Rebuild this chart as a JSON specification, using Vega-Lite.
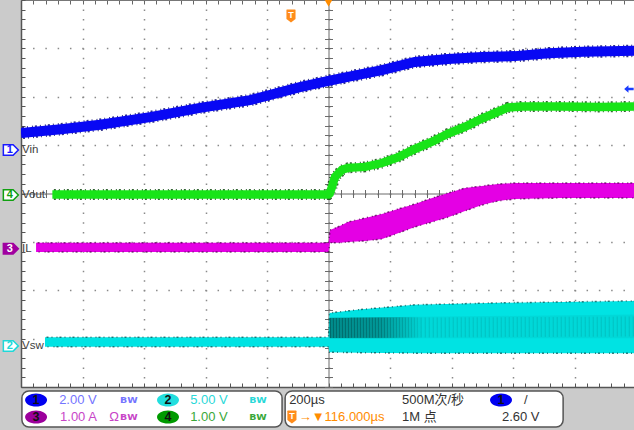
{
  "$schema": "https://vega.github.io/schema/vega-lite/v6.json",
  "width": 615,
  "height": 387,
  "autosize": {"type": "none"},
  "padding": {"left": 21, "top": 0, "right": 0, "bottom": 43},
  "background": "#cbcbcb",
  "config": {"view": {"fill": "white", "stroke": null}},
  "datasets": {
    "frame": [{"t": 0, "v": 0}],
    "vin": [
      {"t": -1000, "v": 1.25}, {"t": -870, "v": 1.33}, {"t": -743, "v": 1.42}, {"t": -580, "v": 1.58},
      {"t": -418, "v": 1.77}, {"t": -255, "v": 1.93}, {"t": -93, "v": 2.2}, {"t": 0, "v": 2.33},
      {"t": 63, "v": 2.41}, {"t": 174, "v": 2.55}, {"t": 281, "v": 2.72}, {"t": 389, "v": 2.78},
      {"t": 499, "v": 2.82}, {"t": 607, "v": 2.84}, {"t": 716, "v": 2.9}, {"t": 827, "v": 2.93},
      {"t": 1000, "v": 2.95}
    ],
    "vout": [
      {"t": -898, "v": -0.02}, {"t": 0, "v": -0.02}, {"t": 4, "v": 0.0}, {"t": 11, "v": 0.13},
      {"t": 21, "v": 0.34}, {"t": 44, "v": 0.49}, {"t": 63, "v": 0.53}, {"t": 119, "v": 0.55},
      {"t": 174, "v": 0.63}, {"t": 226, "v": 0.75}, {"t": 281, "v": 0.92}, {"t": 337, "v": 1.07},
      {"t": 389, "v": 1.24}, {"t": 444, "v": 1.38}, {"t": 499, "v": 1.55}, {"t": 551, "v": 1.69},
      {"t": 584, "v": 1.78}, {"t": 629, "v": 1.8}, {"t": 753, "v": 1.8}, {"t": 883, "v": 1.79},
      {"t": 1000, "v": 1.8}
    ],
    "il": [
      {"t": -951, "lo": -1.21, "hi": -1.02}, {"t": 0, "lo": -1.21, "hi": -1.02},
      {"t": 5, "lo": -1.02, "hi": -0.755}, {"t": 37, "lo": -1.02, "hi": -0.672},
      {"t": 63, "lo": -1.0, "hi": -0.589}, {"t": 119, "lo": -0.98, "hi": -0.506},
      {"t": 174, "lo": -0.94, "hi": -0.424}, {"t": 226, "lo": -0.82, "hi": -0.32},
      {"t": 281, "lo": -0.69, "hi": -0.217}, {"t": 337, "lo": -0.59, "hi": -0.093},
      {"t": 389, "lo": -0.49, "hi": 0.01}, {"t": 444, "lo": -0.36, "hi": 0.114},
      {"t": 499, "lo": -0.24, "hi": 0.155}, {"t": 551, "lo": -0.155, "hi": 0.196},
      {"t": 607, "lo": -0.114, "hi": 0.217}, {"t": 753, "lo": -0.093, "hi": 0.217},
      {"t": 1000, "lo": -0.093, "hi": 0.217}
    ],
    "vsw": [
      {"t": -922, "lo": -3.17, "hi": -2.97}, {"t": 0, "lo": -3.17, "hi": -2.97},
      {"t": 3, "lo": -3.28, "hi": -2.47}, {"t": 100, "lo": -3.29, "hi": -2.4},
      {"t": 281, "lo": -3.3, "hi": -2.3}, {"t": 558, "lo": -3.3, "hi": -2.26},
      {"t": 1000, "lo": -3.3, "hi": -2.22}
    ],
    "vswDark": [
      {"t": 4, "lo": -2.99, "hi": -2.57, "mid": -2.78}, {"t": 300, "lo": -2.99, "hi": -2.55, "mid": -2.77}
    ],
    "vswLight": [
      {"t": 300, "lo": -2.99, "hi": -2.55, "mid": -2.77}, {"t": 1000, "lo": -2.99, "hi": -2.5, "mid": -2.75}
    ],
    "markers": [
      {"ch": "1", "t": -1033, "v": 0.9, "name": "Vin"},
      {"ch": "4", "t": -1033, "v": -0.03, "name": "Vout"},
      {"ch": "3", "t": -1033, "v": -1.14, "name": "IL"},
      {"ch": "2", "t": -1033, "v": -3.15, "name": "Vsw"}
    ],
    "boxes": [
      {"t": -997, "t2": -151, "v": -4.083, "v2": -4.827},
      {"t": -141, "t2": 763, "v": -4.083, "v2": -4.827}
    ],
    "ellipses": [
      {"ch": "1", "t": -951, "v": -4.269},
      {"ch": "3", "t": -951, "v": -4.62},
      {"ch": "2", "t": -522, "v": -4.269},
      {"ch": "4", "t": -522, "v": -4.62},
      {"ch": "1", "t": 561, "v": -4.269}
    ],
    "ptext": [
      {"text": "2.00 V", "t": -876, "v": -4.269, "c": "ch1"},
      {"text": "1.00 A", "t": -873, "v": -4.62, "c": "ch3"},
      {"text": "Ω", "t": -713, "v": -4.62, "c": "ch3"},
      {"text": "5.00 V", "t": -450, "v": -4.269, "c": "ch2"},
      {"text": "1.00 V", "t": -450, "v": -4.62, "c": "ch4"},
      {"text": "200µs", "t": -128, "v": -4.269, "c": "dark"},
      {"text": "→▼116.000µs", "t": -97, "v": -4.62, "c": "orange"},
      {"text": "500M次/秒", "t": 239, "v": -4.269, "c": "dark"},
      {"text": "1M 点", "t": 239, "v": -4.62, "c": "dark"},
      {"text": "/", "t": 636, "v": -4.269, "c": "dark"},
      {"text": "2.60 V", "t": 564, "v": -4.62, "c": "dark"}
    ],
    "icons": [
      {"t": -678, "v": -4.269, "c": "ch1"},
      {"t": -678, "v": -4.62, "c": "ch3"},
      {"t": -258, "v": -4.269, "c": "ch2"},
      {"t": -258, "v": -4.62, "c": "ch4"}
    ],
    "badges": [
      {"t": -122, "v": 3.67},
      {"t": -119, "v": -4.62}
    ],
    "trig": [{"t": 0, "v": 3.94}],
    "lvl": [{"t": 977, "v": 2.16}]
  },
  "resolve": {
    "axis": {"x": "independent", "y": "independent"},
    "scale": {"color": "independent", "fill": "independent", "stroke": "independent"}
  },
  "layer": [
    {
      "data": {"name": "frame"},
      "mark": {"type": "point", "opacity": 0},
      "encoding": {
        "x": {"field": "t", "type": "quantitative", "scale": {"domain": [-1000, 1000], "nice": false, "zero": false},
          "axis": {"orient": "bottom", "values": [-1000,-960,-920,-880,-840,-800,-760,-720,-680,-640,-600,-560,-520,-480,-440,-400,-360,-320,-280,-240,-200,-160,-120,-80,-40,0,40,80,120,160,200,240,280,320,360,400,440,480,520,560,600,640,680,720,760,800,840,880,920,960,1000],
            "labels": false, "title": null, "tickSize": -4, "tickColor": "#555555", "tickWidth": 1,
            "domainColor": "#555555", "domainWidth": 1.5,
            "grid": true, "gridColor": "#8a8a8a", "gridWidth": 1.5, "gridDash": [1.5, 8.175], "gridDashOffset": 0.75,
            "gridOpacity": {"condition": {"test": "abs(datum.value) < 999 && abs(datum.value % 200) < 1", "value": 1}, "value": 0}}},
        "y": {"field": "v", "type": "quantitative", "scale": {"domain": [-4, 4], "nice": false, "zero": false},
          "axis": {"orient": "left", "values": [-4,-3.8,-3.6,-3.4,-3.2,-3,-2.8,-2.6,-2.4,-2.2,-2,-1.8,-1.6,-1.4,-1.2,-1,-0.8,-0.6,-0.4,-0.2,0,0.2,0.4,0.6,0.8,1,1.2,1.4,1.6,1.8,2,2.2,2.4,2.6,2.8,3,3.2,3.4,3.6,3.8,4],
            "labels": false, "title": null, "tickSize": -4, "tickColor": "#555555", "tickWidth": 1,
            "domainColor": "#555555", "domainWidth": 1.5,
            "grid": true, "gridColor": "#8a8a8a", "gridWidth": 1.5, "gridDash": [1.5, 10.8], "gridDashOffset": 0.75,
            "gridOpacity": {"condition": {"test": "abs(datum.value) < 3.9 && abs(datum.value - round(datum.value)) < 0.01", "value": 1}, "value": 0}}}
      }
    },
    {
      "data": {"name": "frame"},
      "mark": {"type": "point", "opacity": 0},
      "encoding": {
        "x": {"field": "t", "type": "quantitative", "scale": {"domain": [-1000, 1000], "nice": false, "zero": false},
          "axis": {"orient": "top", "values": [-1000,-960,-920,-880,-840,-800,-760,-720,-680,-640,-600,-560,-520,-480,-440,-400,-360,-320,-280,-240,-200,-160,-120,-80,-40,0,40,80,120,160,200,240,280,320,360,400,440,480,520,560,600,640,680,720,760,800,840,880,920,960,1000],
            "labels": false, "title": null, "tickSize": -4, "tickColor": "#666666", "domainColor": "#777777", "domainWidth": 1, "grid": false}},
        "y": {"field": "v", "type": "quantitative", "scale": {"domain": [-4, 4], "nice": false, "zero": false}, "axis": null}
      }
    },
    {
      "data": {"name": "frame"},
      "mark": {"type": "point", "opacity": 0},
      "encoding": {
        "x": {"field": "t", "type": "quantitative", "scale": {"domain": [-1000, 1000], "nice": false, "zero": false},
          "axis": {"orient": "bottom", "offset": -193.5, "values": [-1000,-960,-920,-880,-840,-800,-760,-720,-680,-640,-600,-560,-520,-480,-440,-400,-360,-320,-280,-240,-200,-160,-120,-80,-40,0,40,80,120,160,200,240,280,320,360,400,440,480,520,560,600,640,680,720,760,800,840,880,920,960,1000],
            "labels": false, "title": null, "tickSize": 4, "tickColor": "#6a6a6a", "domainColor": "#6a6a6a", "domainWidth": 1, "grid": false}},
        "y": {"field": "v", "type": "quantitative", "scale": {"domain": [-4, 4], "nice": false, "zero": false},
          "axis": {"orient": "left", "offset": -307.5, "values": [-4,-3.8,-3.6,-3.4,-3.2,-3,-2.8,-2.6,-2.4,-2.2,-2,-1.8,-1.6,-1.4,-1.2,-1,-0.8,-0.6,-0.4,-0.2,0,0.2,0.4,0.6,0.8,1,1.2,1.4,1.6,1.8,2,2.2,2.4,2.6,2.8,3,3.2,3.4,3.6,3.8,4],
            "labels": false, "title": null, "tickSize": 4, "tickColor": "#6a6a6a", "domainColor": "#6a6a6a", "domainWidth": 1, "grid": false}}
      }
    },
    {
      "data": {"name": "frame"},
      "mark": {"type": "point", "opacity": 0},
      "encoding": {
        "x": {"field": "t", "type": "quantitative", "scale": {"domain": [-1000, 1000], "nice": false, "zero": false},
          "axis": {"orient": "bottom", "offset": -193.5, "values": [-1000,-960,-920,-880,-840,-800,-760,-720,-680,-640,-600,-560,-520,-480,-440,-400,-360,-320,-280,-240,-200,-160,-120,-80,-40,0,40,80,120,160,200,240,280,320,360,400,440,480,520,560,600,640,680,720,760,800,840,880,920,960,1000],
            "labels": false, "title": null, "tickSize": -4, "tickColor": "#6a6a6a", "domain": false, "grid": false}},
        "y": {"field": "v", "type": "quantitative", "scale": {"domain": [-4, 4], "nice": false, "zero": false},
          "axis": {"orient": "left", "offset": -307.5, "values": [-4,-3.8,-3.6,-3.4,-3.2,-3,-2.8,-2.6,-2.4,-2.2,-2,-1.8,-1.6,-1.4,-1.2,-1,-0.8,-0.6,-0.4,-0.2,0,0.2,0.4,0.6,0.8,1,1.2,1.4,1.6,1.8,2,2.2,2.4,2.6,2.8,3,3.2,3.4,3.6,3.8,4],
            "labels": false, "title": null, "tickSize": -4, "tickColor": "#6a6a6a", "domain": false, "grid": false}}
      }
    },
    {
      "data": {"name": "vsw"},
      "mark": {"type": "area", "color": "#00e3e3", "clip": true},
      "encoding": {
        "x": {"field": "t", "type": "quantitative", "scale": {"domain": [-1000, 1000], "nice": false, "zero": false}, "axis": null},
        "y": {"field": "lo", "type": "quantitative", "scale": {"domain": [-4, 4], "nice": false, "zero": false}, "axis": null},
        "y2": {"field": "hi"}
      }
    },
    {
      "data": {"name": "vswDark"},
      "mark": {"type": "area", "clip": true, "color": {"gradient": "linear", "x1": 0, "x2": 1, "y1": 0, "y2": 0,
        "stops": [{"offset": 0, "color": "#009494"}, {"offset": 0.55, "color": "#00a0a0"}, {"offset": 1, "color": "#00d8d8"}]}},
      "encoding": {
        "x": {"field": "t", "type": "quantitative", "scale": {"domain": [-1000, 1000], "nice": false, "zero": false}, "axis": null},
        "y": {"field": "lo", "type": "quantitative", "scale": {"domain": [-4, 4], "nice": false, "zero": false}, "axis": null},
        "y2": {"field": "hi"}
      }
    },
    {
      "data": {"name": "vswDark"},
      "mark": {"type": "line", "clip": true, "strokeWidth": 20, "strokeDash": [1.5, 1.5], "strokeCap": "butt",
        "color": {"gradient": "linear", "x1": 0, "x2": 1, "y1": 0, "y2": 0,
        "stops": [{"offset": 0, "color": "#006a6a"}, {"offset": 0.55, "color": "#007a7a"}, {"offset": 0.85, "color": "#00a8a8"}, {"offset": 1, "color": "#00c8c8"}]}},
      "encoding": {
        "x": {"field": "t", "type": "quantitative", "scale": {"domain": [-1000, 1000], "nice": false, "zero": false}, "axis": null},
        "y": {"field": "mid", "type": "quantitative", "scale": {"domain": [-4, 4], "nice": false, "zero": false}, "axis": null}
      }
    },
    {
      "data": {"name": "vswLight"},
      "mark": {"type": "area", "clip": true, "color": "#00d8d8"},
      "encoding": {
        "x": {"field": "t", "type": "quantitative", "scale": {"domain": [-1000, 1000], "nice": false, "zero": false}, "axis": null},
        "y": {"field": "lo", "type": "quantitative", "scale": {"domain": [-4, 4], "nice": false, "zero": false}, "axis": null},
        "y2": {"field": "hi"}
      }
    },
    {
      "data": {"name": "vswLight"},
      "mark": {"type": "line", "clip": true, "strokeWidth": 20, "strokeDash": [1, 3], "strokeCap": "butt", "color": "#00c2c2"},
      "encoding": {
        "x": {"field": "t", "type": "quantitative", "scale": {"domain": [-1000, 1000], "nice": false, "zero": false}, "axis": null},
        "y": {"field": "mid", "type": "quantitative", "scale": {"domain": [-4, 4], "nice": false, "zero": false}, "axis": null}
      }
    },
    {
      "data": {"name": "vsw"},
      "mark": {"type": "line", "clip": true, "color": "#004848", "strokeWidth": 1.5, "strokeDash": [1, 2, 2, 3, 1, 4], "strokeDashOffset": 1.5, "opacity": 0.7},
      "encoding": {
        "x": {"field": "t", "type": "quantitative", "scale": {"domain": [-1000, 1000], "nice": false, "zero": false}, "axis": null},
        "y": {"field": "hi", "type": "quantitative", "scale": {"domain": [-4, 4], "nice": false, "zero": false}, "axis": null}
      }
    },
    {
      "data": {"name": "vsw"},
      "mark": {"type": "line", "clip": true, "color": "#004848", "strokeWidth": 1.5, "strokeDash": [2, 3, 1, 5, 1, 2], "strokeDashOffset": 2.5, "opacity": 0.7},
      "encoding": {
        "x": {"field": "t", "type": "quantitative", "scale": {"domain": [-1000, 1000], "nice": false, "zero": false}, "axis": null},
        "y": {"field": "lo", "type": "quantitative", "scale": {"domain": [-4, 4], "nice": false, "zero": false}, "axis": null}
      }
    },
    {
      "data": {"name": "il"},
      "mark": {"type": "area", "color": "#e400e4", "clip": true},
      "encoding": {
        "x": {"field": "t", "type": "quantitative", "scale": {"domain": [-1000, 1000], "nice": false, "zero": false}, "axis": null},
        "y": {"field": "lo", "type": "quantitative", "scale": {"domain": [-4, 4], "nice": false, "zero": false}, "axis": null},
        "y2": {"field": "hi"}
      }
    },
    {
      "data": {"name": "il"},
      "mark": {"type": "line", "clip": true, "color": "#500050", "strokeWidth": 1.5, "strokeDash": [1, 2, 2, 3, 1, 4], "strokeDashOffset": 1.5, "opacity": 0.75},
      "encoding": {
        "x": {"field": "t", "type": "quantitative", "scale": {"domain": [-1000, 1000], "nice": false, "zero": false}, "axis": null},
        "y": {"field": "hi", "type": "quantitative", "scale": {"domain": [-4, 4], "nice": false, "zero": false}, "axis": null}
      }
    },
    {
      "data": {"name": "il"},
      "mark": {"type": "line", "clip": true, "color": "#500050", "strokeWidth": 1.5, "strokeDash": [2, 3, 1, 5, 1, 2], "strokeDashOffset": 2.5, "opacity": 0.75},
      "encoding": {
        "x": {"field": "t", "type": "quantitative", "scale": {"domain": [-1000, 1000], "nice": false, "zero": false}, "axis": null},
        "y": {"field": "lo", "type": "quantitative", "scale": {"domain": [-4, 4], "nice": false, "zero": false}, "axis": null}
      }
    },
    {
      "data": {"name": "vout"},
      "mark": {"type": "line", "clip": true, "color": "#004000", "strokeWidth": 11, "strokeDash": [1, 2, 2, 3, 1, 4], "strokeDashOffset": 1.5, "opacity": 0.8},
      "encoding": {
        "x": {"field": "t", "type": "quantitative", "scale": {"domain": [-1000, 1000], "nice": false, "zero": false}, "axis": null},
        "y": {"field": "v", "type": "quantitative", "scale": {"domain": [-4, 4], "nice": false, "zero": false}, "axis": null}
      }
    },
    {
      "data": {"name": "vout"},
      "mark": {"type": "line", "clip": true, "color": "#18e418", "strokeWidth": 8.5},
      "encoding": {
        "x": {"field": "t", "type": "quantitative", "scale": {"domain": [-1000, 1000], "nice": false, "zero": false}, "axis": null},
        "y": {"field": "v", "type": "quantitative", "scale": {"domain": [-4, 4], "nice": false, "zero": false}, "axis": null}
      }
    },
    {
      "data": {"name": "vin"},
      "mark": {"type": "line", "clip": true, "color": "#00006a", "strokeWidth": 12.5, "strokeDash": [1, 2, 2, 3, 1, 4], "strokeDashOffset": 1.5, "opacity": 0.8},
      "encoding": {
        "x": {"field": "t", "type": "quantitative", "scale": {"domain": [-1000, 1000], "nice": false, "zero": false}, "axis": null},
        "y": {"field": "v", "type": "quantitative", "scale": {"domain": [-4, 4], "nice": false, "zero": false}, "axis": null}
      }
    },
    {
      "data": {"name": "vin"},
      "mark": {"type": "line", "clip": true, "color": "#0808f4", "strokeWidth": 10},
      "encoding": {
        "x": {"field": "t", "type": "quantitative", "scale": {"domain": [-1000, 1000], "nice": false, "zero": false}, "axis": null},
        "y": {"field": "v", "type": "quantitative", "scale": {"domain": [-4, 4], "nice": false, "zero": false}, "axis": null}
      }
    },
    {
      "data": {"name": "markers"},
      "mark": {"type": "point", "clip": false, "filled": true, "size": 225, "strokeWidth": 1.5, "opacity": 1,
        "shape": "M-1,-0.7 L0.3,-0.7 L1,0 L0.3,0.7 L-1,0.7 Z"},
      "encoding": {
        "x": {"field": "t", "type": "quantitative", "scale": {"domain": [-1000, 1000], "nice": false, "zero": false}, "axis": null},
        "y": {"field": "v", "type": "quantitative", "scale": {"domain": [-4, 4], "nice": false, "zero": false}, "axis": null},
        "fill": {"field": "ch", "type": "nominal", "legend": null, "scale": {"domain": ["1", "2", "3", "4"], "range": ["#ffffff", "#ffffff", "#a000a0", "#ffffff"]}},
        "stroke": {"field": "ch", "type": "nominal", "legend": null, "scale": {"domain": ["1", "2", "3", "4"], "range": ["#1a1aff", "#20d8d8", "#a000a0", "#10a010"]}}
      }
    },
    {
      "data": {"name": "markers"},
      "mark": {"type": "text", "clip": false, "font": "Liberation Sans", "fontSize": 11, "fontWeight": "bold", "align": "center", "baseline": "middle", "dx": -1},
      "encoding": {
        "x": {"field": "t", "type": "quantitative", "scale": {"domain": [-1000, 1000], "nice": false, "zero": false}, "axis": null},
        "y": {"field": "v", "type": "quantitative", "scale": {"domain": [-4, 4], "nice": false, "zero": false}, "axis": null},
        "text": {"field": "ch"},
        "color": {"field": "ch", "type": "nominal", "legend": null, "scale": {"domain": ["1", "2", "3", "4"], "range": ["#1a1aff", "#20d8d8", "#ffffff", "#10a010"]}}
      }
    },
    {
      "data": {"name": "markers"},
      "mark": {"type": "text", "clip": false, "font": "Liberation Sans", "fontSize": 11.5, "align": "left", "baseline": "middle", "color": "#404040", "dx": 1},
      "encoding": {
        "x": {"datum": -1000, "type": "quantitative", "scale": {"domain": [-1000, 1000], "nice": false, "zero": false}, "axis": null},
        "y": {"field": "v", "type": "quantitative", "scale": {"domain": [-4, 4], "nice": false, "zero": false}, "axis": null},
        "text": {"field": "name"}
      }
    },
    {
      "data": {"name": "trig"},
      "mark": {"type": "point", "clip": false, "filled": true, "shape": "triangle-down", "size": 70, "color": "#ff8c00", "opacity": 1},
      "encoding": {
        "x": {"field": "t", "type": "quantitative", "scale": {"domain": [-1000, 1000], "nice": false, "zero": false}, "axis": null},
        "y": {"field": "v", "type": "quantitative", "scale": {"domain": [-4, 4], "nice": false, "zero": false}, "axis": null}
      }
    },
    {
      "data": {"name": "lvl"},
      "mark": {"type": "point", "clip": false, "filled": true, "size": 90, "color": "#1a3cff", "opacity": 1,
        "shape": "M-1,0 L-0.1,-0.8 L-0.1,-0.25 L1,-0.25 L1,0.25 L-0.1,0.25 L-0.1,0.8 Z"},
      "encoding": {
        "x": {"field": "t", "type": "quantitative", "scale": {"domain": [-1000, 1000], "nice": false, "zero": false}, "axis": null},
        "y": {"field": "v", "type": "quantitative", "scale": {"domain": [-4, 4], "nice": false, "zero": false}, "axis": null}
      }
    },
    {
      "data": {"name": "boxes"},
      "mark": {"type": "rect", "clip": false, "fill": "#ffffff", "stroke": "#555555", "strokeWidth": 1.5, "cornerRadius": 7},
      "encoding": {
        "x": {"field": "t", "type": "quantitative", "scale": {"domain": [-1000, 1000], "nice": false, "zero": false}, "axis": null},
        "x2": {"field": "t2"},
        "y": {"field": "v", "type": "quantitative", "scale": {"domain": [-4, 4], "nice": false, "zero": false}, "axis": null},
        "y2": {"field": "v2"}
      }
    },
    {
      "data": {"name": "badges"},
      "mark": {"type": "point", "clip": false, "filled": true, "size": 169, "color": "#ff8c1a", "opacity": 1,
        "shape": "M-0.65,-1 L0.65,-1 L0.7,-0.9 L0.7,0.45 L0,1 L-0.7,0.45 L-0.7,-0.9 Z"},
      "encoding": {
        "x": {"field": "t", "type": "quantitative", "scale": {"domain": [-1000, 1000], "nice": false, "zero": false}, "axis": null},
        "y": {"field": "v", "type": "quantitative", "scale": {"domain": [-4, 4], "nice": false, "zero": false}, "axis": null}
      }
    },
    {
      "data": {"name": "badges"},
      "mark": {"type": "text", "clip": false, "text": "T", "font": "Liberation Sans", "fontSize": 9, "fontWeight": "bold", "color": "#ffffff", "align": "center", "baseline": "middle", "dy": -1},
      "encoding": {
        "x": {"field": "t", "type": "quantitative", "scale": {"domain": [-1000, 1000], "nice": false, "zero": false}, "axis": null},
        "y": {"field": "v", "type": "quantitative", "scale": {"domain": [-4, 4], "nice": false, "zero": false}, "axis": null}
      }
    },
    {
      "data": {"name": "ellipses"},
      "mark": {"type": "point", "clip": false, "filled": true, "size": 484, "opacity": 1,
        "shape": "M-1,0 A1,0.6 0 1,1 1,0 A1,0.6 0 1,1 -1,0 Z"},
      "encoding": {
        "x": {"field": "t", "type": "quantitative", "scale": {"domain": [-1000, 1000], "nice": false, "zero": false}, "axis": null},
        "y": {"field": "v", "type": "quantitative", "scale": {"domain": [-4, 4], "nice": false, "zero": false}, "axis": null},
        "color": {"field": "ch", "type": "nominal", "legend": null, "scale": {"domain": ["1", "2", "3", "4"], "range": ["#0000f0", "#22dede", "#9c009c", "#009a00"]}}
      }
    },
    {
      "data": {"name": "ellipses"},
      "mark": {"type": "text", "clip": false, "font": "Liberation Sans", "fontSize": 12.5, "fontWeight": "bold", "color": "#101010", "align": "center", "baseline": "middle"},
      "encoding": {
        "x": {"field": "t", "type": "quantitative", "scale": {"domain": [-1000, 1000], "nice": false, "zero": false}, "axis": null},
        "y": {"field": "v", "type": "quantitative", "scale": {"domain": [-4, 4], "nice": false, "zero": false}, "axis": null},
        "text": {"field": "ch"}
      }
    },
    {
      "data": {"name": "ptext"},
      "mark": {"type": "text", "clip": false, "font": "Liberation Sans, Noto Sans CJK SC", "fontSize": 13, "align": "left", "baseline": "middle"},
      "encoding": {
        "x": {"field": "t", "type": "quantitative", "scale": {"domain": [-1000, 1000], "nice": false, "zero": false}, "axis": null},
        "y": {"field": "v", "type": "quantitative", "scale": {"domain": [-4, 4], "nice": false, "zero": false}, "axis": null},
        "text": {"field": "text"},
        "color": {"field": "c", "type": "nominal", "legend": null, "scale": {"domain": ["ch1", "ch2", "ch3", "ch4", "dark", "orange"], "range": ["#7474ff", "#2ad8d8", "#c845c8", "#3aa83a", "#333333", "#ff8c00"]}}
      }
    },
    {
      "data": {"name": "icons"},
      "mark": {"type": "text", "clip": false, "text": "ᴮᵂ", "font": "DejaVu Sans", "fontSize": 15, "fontWeight": "bold", "align": "left", "baseline": "middle", "dy": 3},
      "encoding": {
        "x": {"field": "t", "type": "quantitative", "scale": {"domain": [-1000, 1000], "nice": false, "zero": false}, "axis": null},
        "y": {"field": "v", "type": "quantitative", "scale": {"domain": [-4, 4], "nice": false, "zero": false}, "axis": null},
        "color": {"field": "c", "type": "nominal", "legend": null, "scale": {"domain": ["ch1", "ch2", "ch3", "ch4"], "range": ["#7474ff", "#2ad8d8", "#c845c8", "#3aa83a"]}}
      }
    }
  ]
}
